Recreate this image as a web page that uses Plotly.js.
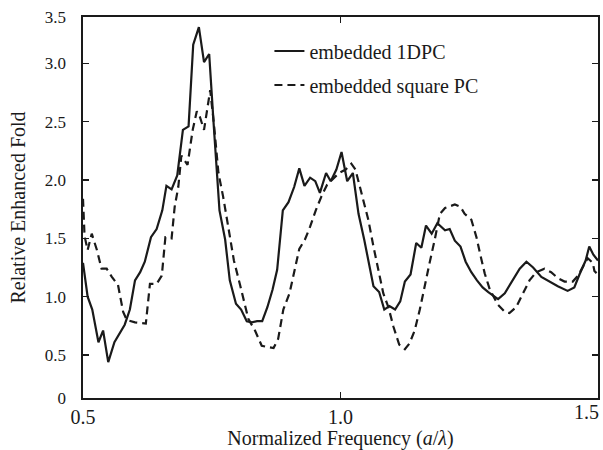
<!DOCTYPE html>
<html>
<head>
<meta charset="utf-8">
<script src="https://cdn.plot.ly/plotly-3.0.1.min.js"></script>
<style>html,body{margin:0;padding:0;background:#fff;}#chart{width:603px;height:450px;}</style>
</head>
<body>
<div id="chart"></div>
<script>
// Series names
const seriesNames = ["embedded 1DPC", "embedded square PC"];

// embedded 1DPC (solid)
const solidX = [0.500,0.509,0.518,0.530,0.539,0.549,0.561,0.572,0.581,0.591,0.601,0.611,0.620,0.632,0.643,0.654,0.662,0.672,0.683,0.694,0.705,0.714,0.725,0.735,0.745,0.754,0.765,0.776,0.785,0.797,0.807,0.818,0.828,0.838,0.848,0.858,0.868,0.877,0.888,0.899,0.910,0.920,0.930,0.941,0.951,0.960,0.972,0.981,0.992,1.002,1.013,1.024,1.035,1.046,1.054,1.064,1.075,1.085,1.095,1.106,1.116,1.125,1.136,1.147,1.157,1.166,1.177,1.188,1.203,1.212,1.222,1.233,1.243,1.254,1.265,1.276,1.287,1.296,1.306,1.319,1.335,1.348,1.361,1.374,1.390,1.406,1.422,1.441,1.454,1.464,1.476,1.483,1.491,1.500];
const solidY = [1.29,1.00,0.89,0.61,0.71,0.44,0.61,0.69,0.76,0.89,1.14,1.21,1.30,1.51,1.58,1.74,1.95,1.92,2.04,2.43,2.46,3.16,3.31,3.01,3.08,2.46,1.74,1.49,1.14,0.94,0.89,0.79,0.78,0.79,0.79,0.91,1.06,1.23,1.74,1.81,1.94,2.10,1.95,2.02,1.99,1.89,2.06,1.99,2.09,2.24,1.99,2.06,1.71,1.49,1.31,1.09,1.04,0.89,0.92,0.89,0.96,1.13,1.19,1.46,1.42,1.61,1.54,1.63,1.57,1.58,1.48,1.43,1.30,1.21,1.14,1.08,1.04,1.01,0.98,1.03,1.14,1.24,1.30,1.25,1.17,1.13,1.09,1.05,1.08,1.19,1.31,1.43,1.36,1.31];

// embedded square PC (dashed)
const dashX = [0.500,0.503,0.509,0.517,0.527,0.536,0.546,0.556,0.568,0.578,0.585,0.601,0.622,0.630,0.643,0.653,0.660,0.672,0.678,0.685,0.691,0.703,0.713,0.721,0.727,0.735,0.747,0.754,0.763,0.772,0.782,0.793,0.805,0.821,0.834,0.847,0.857,0.870,0.879,0.889,0.901,0.912,0.920,0.931,0.941,0.952,0.963,0.974,0.986,0.997,1.010,1.021,1.029,1.037,1.045,1.054,1.064,1.073,1.083,1.093,1.103,1.114,1.125,1.134,1.144,1.154,1.163,1.173,1.183,1.193,1.203,1.222,1.233,1.241,1.254,1.264,1.271,1.280,1.290,1.306,1.319,1.328,1.341,1.354,1.367,1.380,1.396,1.409,1.422,1.435,1.451,1.461,1.471,1.480,1.490,1.493,1.500];
const dashY = [1.84,1.52,1.40,1.54,1.40,1.24,1.24,1.17,1.10,0.87,0.80,0.78,0.77,1.11,1.11,1.18,1.51,1.50,1.77,1.94,2.21,2.13,2.43,2.59,2.54,2.43,2.77,2.49,2.06,1.86,1.60,1.31,1.10,0.81,0.71,0.58,0.57,0.56,0.64,0.89,1.03,1.26,1.41,1.49,1.60,1.74,1.86,1.96,2.01,2.06,2.09,2.14,2.09,1.96,1.83,1.66,1.43,1.23,1.03,0.91,0.74,0.59,0.55,0.60,0.71,0.89,1.09,1.29,1.49,1.71,1.76,1.79,1.77,1.71,1.66,1.51,1.37,1.20,1.06,0.93,0.87,0.86,0.91,1.03,1.14,1.21,1.24,1.21,1.16,1.13,1.13,1.18,1.26,1.33,1.29,1.22,1.19];

// Axis ticks (the reference's end labels sit on the frame edges)
const yRange = [0.132, 3.397];
const yTickVals = [0.132, 0.5, 1.0, 1.5, 2.0, 2.5, 3.0, 3.397];
const yTickText = ["0", "0.5", "1.0", "1.5", "2.0", "2.5", "3.0", "3.5"];
const xTickVals = [0.5, 1.0, 1.5];
const xTickText = ["0.5", "1.0", "1.5"];

const FONT = "Liberation Serif";
const INK = "#1a1a1a";

const lastX = xTickVals.length - 1;
// the last x label sits just inside the figure edge in the reference: drawn as an
// annotation anchored at its tick value so it is not clipped
const xTickShown = xTickText.map((t, i) => i === lastX ? "" : t);

const traces = [
  {x: solidX, y: solidY, name: seriesNames[0], mode: "lines", legendgroup: "a",
   line: {color: INK, width: 2.2}},
  {x: dashX, y: dashY, name: seriesNames[1], mode: "lines", legendgroup: "b",
   line: {color: INK, width: 2.2, dash: "8px,5px"}}
];

const layout = {
  width: 603, height: 450,
  margin: {l: 83, r: 5, t: 17, b: 52},
  paper_bgcolor: "#fff", plot_bgcolor: "#fff",
  font: {family: FONT, color: INK, size: 17},
  showlegend: true,
  legend: {x: 0.362, y: 0.962, xanchor: "left", yanchor: "top",
           font: {family: FONT, size: 20, color: INK},
           bgcolor: "rgba(0,0,0,0)", traceorder: "grouped", tracegroupgap: 5},
  annotations: [{
    xref: "x", yref: "paper", x: xTickVals[lastX], y: 0,
    xanchor: "right", yanchor: "top", xshift: 3, yshift: -1,
    text: xTickText[lastX], showarrow: false,
    font: {family: FONT, size: 20, color: INK}
  }],
  xaxis: {
    range: [0.5, 1.5], tickvals: xTickVals, ticktext: xTickShown,
    ticks: "inside", ticklen: 6, tickcolor: INK, tickwidth: 1.2,
    showline: true, linecolor: INK, linewidth: 1.6, mirror: "ticks",
    showgrid: false, zeroline: false,
    tickfont: {family: FONT, size: 20, color: INK},
    ticklabelstandoff: 0,
    title: {text: "Normalized Frequency (<i>a</i>/<i>λ</i>)", font: {family: FONT, size: 20, color: INK}, standoff: 4}
  },
  yaxis: {
    range: yRange, tickvals: yTickVals, ticktext: yTickText,
    ticks: "inside", ticklen: 6, tickcolor: INK, tickwidth: 1.2,
    showline: true, linecolor: INK, linewidth: 1.6, mirror: "ticks",
    showgrid: false, zeroline: false,
    tickfont: {family: FONT, size: 17, color: INK},
    ticklabelstandoff: 12, ticklabeloverflow: "allow",
    title: {text: "Relative Enhanced Fold", font: {family: FONT, size: 20, color: INK}, standoff: 14}
  }
};

Plotly.newPlot("chart", traces, layout, {displayModeBar: false, staticPlot: true});
</script>
</body>
</html>
